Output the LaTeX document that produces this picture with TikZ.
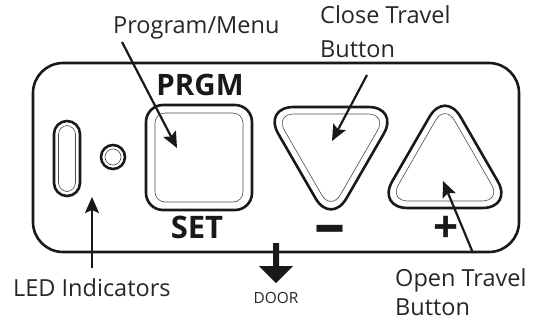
\documentclass[tikz,border=0pt]{standalone}
\usepackage{fontspec}
\setmainfont{Open Sans}
\newfontfamily\boldlab{Open Sans}[UprightFont=* Bold]
\usetikzlibrary{arrows.meta}
\tikzset{
  x=1pt,y=-1pt,
  panel/.style={draw=black!90,line width=2.6pt,rounded corners=30pt},
  outerkey/.style={draw=black!90,line width=2.6pt,line join=round},
  innerkey/.style={draw=black!70,line width=0.6pt},
  lab/.style={font=\fontsize{23.5}{26}\selectfont,text=black!85,inner sep=0pt,anchor=base west},
  keycap/.style={text=black!90,inner sep=0pt,anchor=base},
  pointer/.style={draw=black!90,line width=2.2pt,-{Stealth[length=16pt,width=14pt,inset=3pt]}},
}
\begin{document}
\begin{tikzpicture}
\useasboundingbox (0,0) rectangle (535,322);
\draw[panel] (33,63) rectangle (519,252);
% LED oval
\draw[outerkey,rounded corners=13pt] (54,121) rectangle (80,196);
\draw[innerkey,rounded corners=9pt] (58.5,125.5) rectangle (75.5,191.5);
% LED dot
\node[circle,outerkey,minimum size=24pt,inner sep=0pt] (dot) at (113,157) {};
\node[circle,innerkey,minimum size=16pt,inner sep=0pt] (dotin) at (113,157) {};
% PRGM key
\draw[outerkey,rounded corners=17pt] (146,105) rectangle (252,210);
\draw[innerkey,rounded corners=10pt] (155,113) rectangle (243,202);
% Close key (triangle pointing down)
\draw[outerkey,rounded corners=31pt] (331,225.1) -- (399.2,107) -- (262.8,107) -- cycle;
\draw[innerkey,rounded corners=19pt] (331,211) -- (387,114) -- (275,114) -- cycle;
% Open key (triangle pointing up)
\draw[outerkey,rounded corners=31pt] (445,90) -- (513.2,208) -- (376.8,208) -- cycle;
\draw[innerkey,rounded corners=19pt] (445,104) -- (501,201) -- (389,201) -- cycle;
% Captions
\node[keycap,font=\fontsize{29.5}{30}\boldlab] (prgm) at (200,95) {PRGM};
\node[keycap,font=\fontsize{31}{32}\boldlab] (set) at (197,238) {SET};
\node[keycap,font=\fontsize{62}{62}\boldlab] (minus) at (330,245) {–};
\node[keycap,font=\fontsize{44}{44}\boldlab] (plus) at (446,242) {+};
% Labels
\node[lab] (progl) at (113,33) {Program/Menu};
\node[lab] (closea) at (320,23) {Close Travel};
\node[lab] (closeb) at (320,57) {Button};
\node[lab] (ledl) at (13,296) {LED Indicators};
\node[lab] (opena) at (395,286) {Open Travel};
\node[lab] (openb) at (395,315) {Button};
\node[font=\fontsize{15.4}{16}\selectfont,text=black!85,inner sep=0pt] (doorl) at (276,298) {DOOR};
% Pointers
\coordinate (progs) at (122,42); \coordinate (progt) at (177,148);
\coordinate (closes) at (367,75); \coordinate (closet) at (332,141);
\coordinate (opens) at (473,253); \coordinate (opent) at (443,181);
\coordinate (leds) at (92,268); \coordinate (ledt) at (92,197);
\draw[pointer] (progs) -- (progt);
\draw[pointer] (closes) -- (closet);
\draw[pointer] (opens) -- (opent);
\draw[pointer] (leds) -- (ledt);
% Door arrow
\coordinate (doors) at (276,243); \coordinate (doort) at (276,283);
\fill[black!90] (273,243) -- (279,243) -- (279,266) -- (293,266) -- (doort) -- (259,266) -- (273,266) -- cycle;
\end{tikzpicture}
\end{document}
